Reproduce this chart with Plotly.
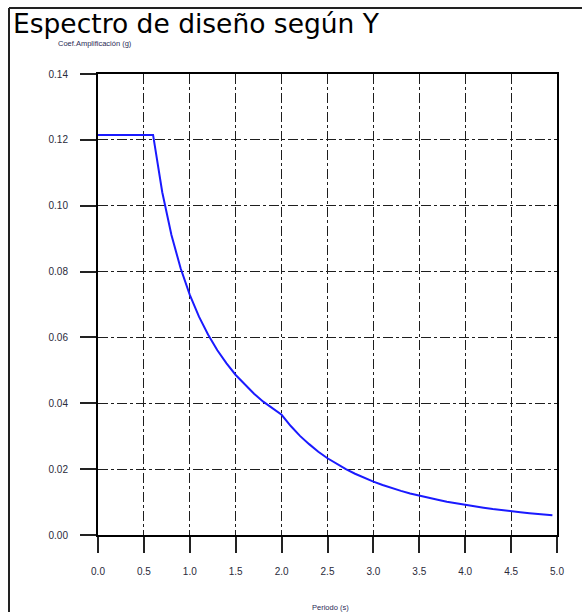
import plotly.graph_objects as go

# Design spectrum: period (s) vs amplification coefficient (g)
periodo = [0.0, 0.1, 0.2, 0.3, 0.4, 0.5, 0.6, 0.7, 0.8, 0.9,
           1.0, 1.1, 1.2, 1.3, 1.4, 1.5, 1.6, 1.7, 1.8, 1.9,
           2.0, 2.1, 2.2, 2.3, 2.4, 2.5, 2.6, 2.7, 2.8, 2.9,
           3.0, 3.1, 3.2, 3.3, 3.4, 3.5, 3.6, 3.7, 3.8, 3.9,
           4.0, 4.1, 4.2, 4.3, 4.4, 4.5, 4.6, 4.7, 4.8, 4.9, 4.95]
coef = [0.1215, 0.1215, 0.1215, 0.1215, 0.1215, 0.1215, 0.1215, 0.1041, 0.0911, 0.0810,
        0.0729, 0.0663, 0.0608, 0.0561, 0.0521, 0.0486, 0.0456, 0.0429, 0.0405, 0.0384,
        0.0365, 0.0331, 0.0301, 0.0276, 0.0253, 0.0233, 0.0216, 0.0200, 0.0186, 0.0173,
        0.0162, 0.0152, 0.0142, 0.0134, 0.0126, 0.0119, 0.0113, 0.0107, 0.0101, 0.0096,
        0.0091, 0.0087, 0.0083, 0.0079, 0.0075, 0.0072, 0.0069, 0.0066, 0.0063, 0.0061, 0.0060]

x_ticks = [0.0, 0.5, 1.0, 1.5, 2.0, 2.5, 3.0, 3.5, 4.0, 4.5, 5.0]
x_labels = ["0.0", "0.5", "1.0", "1.5", "2.0", "2.5", "3.0", "3.5", "4.0", "4.5", "5.0"]
y_ticks = [0.00, 0.02, 0.04, 0.06, 0.08, 0.10, 0.12, 0.14]
y_labels = ["0.00", "0.02", "0.04", "0.06", "0.08", "0.10", "0.12", "0.14"]

W, H = 582, 612
ML, MR, MT, MB = 98, 25, 74, 77
PW, PH = W - ML - MR, H - MT - MB


def px_x(p):
    return (p - ML) / PW


def px_y(p):
    return 1 - (p - MT) / PH


fig = go.Figure()
fig.add_trace(go.Scatter(
    x=periodo, y=coef, mode="lines",
    line=dict(color="#1a1aff", width=2),
    hoverinfo="x+y", showlegend=False,
))

tickfont = dict(family="Liberation Sans, Arial, sans-serif", size=10, color="#2a2a3a")
axis_common = dict(
    showline=True, linecolor="black", linewidth=2, mirror=True,
    showgrid=True, gridcolor="#1e1e1e", gridwidth=1.4, griddash="10px,3px,3px,3px",
    ticks="outside", ticklen=16, tickwidth=2, tickcolor="#222222",
    tickfont=tickfont, zeroline=False, ticklabelstandoff=10,
)
fig.update_xaxes(range=[0, 5], tickvals=x_ticks, ticktext=x_labels, **axis_common)
fig.update_yaxes(range=[0, 0.14], tickvals=y_ticks, ticktext=y_labels, **axis_common)

fig.update_layout(
    width=W, height=H,
    margin=dict(l=ML, r=MR, t=MT, b=MB, pad=0),
    paper_bgcolor="white", plot_bgcolor="white",
    title=dict(
        text="Espectro de diseño según Y",
        font=dict(family="DejaVu Sans, Verdana, sans-serif", size=26.5, color="black"),
        xref="container", yref="container", x=13 / W, y=1 - 14 / H,
        xanchor="left", yanchor="top",
    ),
    annotations=[
        dict(text="Coef.Amplificación (g)", xref="paper", yref="paper",
             x=px_x(56), y=px_y(43), xanchor="left", yanchor="middle", showarrow=False,
             font=dict(family="Liberation Sans, Arial, sans-serif", size=7.5, color="#2a2a55")),
        dict(text="Periodo (s)", xref="paper", yref="paper",
             x=px_x(330), y=px_y(607), xanchor="center", yanchor="middle", showarrow=False,
             font=dict(family="Liberation Sans, Arial, sans-serif", size=7.5, color="#2a2a55")),
    ],
    shapes=[
        # outer frame: left and top edges
        dict(type="line", xref="paper", yref="paper", x0=px_x(9), x1=px_x(9),
             y0=px_y(8), y1=px_y(H + 5), line=dict(color="#222222", width=2)),
        dict(type="line", xref="paper", yref="paper", x0=px_x(9), x1=px_x(W + 5),
             y0=px_y(8), y1=px_y(8), line=dict(color="#222222", width=2)),
    ],
)

fig.write_html("out.html")
